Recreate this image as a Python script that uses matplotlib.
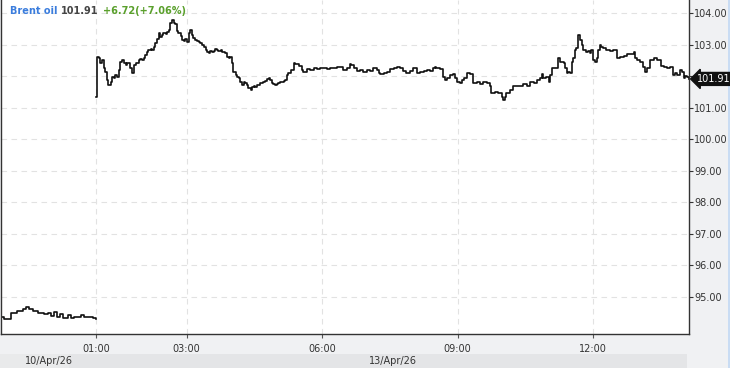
import matplotlib
matplotlib.use("Agg")
import matplotlib.pyplot as plt
from matplotlib.patches import Rectangle
import matplotlib.transforms as mtransforms

# ---------------- data ----------------
instrument = "Brent oil"
last_price = 101.91
change = 6.72
change_pct = 7.06
day_labels = ["10/Apr/26", "13/Apr/26"]
tick_hours = [1, 3, 6, 9, 12]
y_ticks = [95, 96, 97, 98, 99, 100, 101, 102, 103, 104]

# Friday 10 Apr: minutes relative to the session close (close aligned with Monday 01:00)
fri_min = [-127, -123, -114, -105, -98, -94, -90, -84, -77, -70, -65, -61, -57,
           -52, -48, -44, -38, -34, -30, -25, -21, -17, -12, -8, -4, 0]
fri_px = [94.38, 94.31, 94.50, 94.56, 94.61, 94.68, 94.61, 94.56, 94.48, 94.45,
          94.50, 94.40, 94.54, 94.38, 94.46, 94.35, 94.42, 94.35, 94.38, 94.37,
          94.42, 94.38, 94.38, 94.37, 94.35, 94.31]

# Monday 13 Apr: minutes after 01:00
mon_min = [0, 1, 3, 5, 8, 10, 12, 14, 16, 19, 21, 23, 25, 27, 30, 32, 34, 36, 39, 41,
           43, 45, 47, 50, 52, 54, 56, 58, 61, 63, 65, 67, 69, 72, 74, 76, 78, 81, 83, 85,
           87, 89, 92, 94, 96, 98, 100, 103, 105, 107, 109, 112, 114, 116, 118, 120, 123, 125, 127, 129,
           131, 134, 136, 138, 140, 143, 145, 147, 149, 151, 154, 156, 158, 160, 162, 165, 167, 169, 171, 174,
           176, 178, 180, 182, 185, 187, 189, 191, 193, 196, 198, 200, 202, 205, 207, 209, 211, 213, 216, 218,
           220, 222, 224, 227, 229, 231, 233, 235, 238, 240, 242, 244, 247, 249, 251,
           253, 255, 258, 262, 264, 269, 273, 275, 280, 284, 289, 293, 297, 302, 306, 311, 315, 320, 324, 328,
           333, 337, 339, 342, 346, 351, 355, 359, 364, 368, 373, 375, 377, 382, 386, 390, 395, 399, 404, 408,
           412, 417, 421, 426, 430, 435, 439, 444, 448, 450, 452, 457, 461, 463, 466, 470, 474, 477, 479, 483,
           486, 488, 492, 497,
           501, 506, 510, 514, 519, 523, 525, 530, 534, 539, 541, 543, 545, 550, 554, 559, 563, 567, 572, 576,
           581, 585, 590, 592, 594, 598, 601, 603, 605, 609, 612, 614, 616, 621, 623, 625, 627, 629, 632, 634,
           636, 638, 640, 643, 645, 647, 649, 651, 654, 656, 658, 660, 663, 665, 667, 669, 671, 674, 678, 683,
           687, 692, 696, 701, 705, 710, 714, 716, 718, 723, 727, 729, 732, 736, 741, 745, 750, 754, 758, 763,
           767, 769, 772, 776, 778, 781, 783, 785, 787]
mon_px = [101.35, 102.61, 102.56, 102.41, 102.51, 102.25, 102.14, 101.88, 101.72, 101.82,
          101.98, 101.93, 102.04, 101.98, 102.19, 102.46, 102.51, 102.41, 102.35, 102.41,
          102.43, 102.25, 102.09, 102.35, 102.43, 102.41, 102.51, 102.53, 102.51, 102.56,
          102.67, 102.77, 102.83, 102.85, 102.83, 102.91, 103.04, 103.17, 103.36, 103.25,
          103.30, 103.36, 103.33, 103.41, 103.46, 103.67, 103.78, 103.67, 103.65, 103.44,
          103.36, 103.27, 103.14, 103.12, 103.17, 103.09, 103.36, 103.46, 103.30, 103.20,
          103.14, 103.12, 103.09, 103.04, 102.99, 102.93, 102.83, 102.77, 102.72, 102.81,
          102.77, 102.81, 102.85, 102.83, 102.81, 102.83, 102.77, 102.77, 102.74, 102.62,
          102.56, 102.62, 102.41, 102.14, 102.04, 101.98, 101.93, 101.82, 101.72, 101.82,
          101.77, 101.72, 101.61, 101.56, 101.65, 101.69, 101.65, 101.72, 101.72, 101.77,
          101.79, 101.82, 101.86, 101.90, 101.93, 101.88, 101.77, 101.75, 101.72, 101.75,
          101.77, 101.80, 101.82, 101.84, 101.88,
          102.04, 102.09, 102.19, 102.41, 102.38, 102.32, 102.19, 102.14, 102.22, 102.19,
          102.25, 102.22, 102.25, 102.25, 102.22, 102.27, 102.25, 102.28, 102.30, 102.19,
          102.25, 102.38, 102.35, 102.25, 102.17, 102.19, 102.14, 102.19, 102.17, 102.25,
          102.19, 102.09, 102.07, 102.11, 102.14, 102.22, 102.25, 102.28, 102.25, 102.17,
          102.09, 102.17, 102.25, 102.09, 102.14, 102.17, 102.19, 102.17, 102.25, 102.30,
          102.25, 102.22, 101.98, 101.88, 101.93, 102.04, 102.07, 101.93, 101.82, 101.77,
          101.88, 101.93, 102.09, 102.08,
          101.77, 101.82, 101.74, 101.82, 101.77, 101.67, 101.46, 101.51, 101.46, 101.35,
          101.24, 101.35, 101.46, 101.56, 101.67, 101.70, 101.67, 101.74, 101.67, 101.82,
          101.77, 101.88, 101.93, 102.06, 101.93, 101.98, 101.82, 102.04, 102.25, 102.25,
          102.27, 102.56, 102.46, 102.41, 102.25, 102.09, 102.14, 102.09, 102.46, 102.56,
          102.83, 102.88, 103.30, 103.14, 102.99, 102.83, 102.83, 102.77, 102.80, 102.72,
          102.83, 102.51, 102.46, 102.56, 102.83, 102.97, 102.93, 102.90, 102.83, 102.80,
          102.83, 102.56, 102.62, 102.65, 102.69, 102.69, 102.77, 102.56, 102.51, 102.44,
          102.30, 102.14, 102.27, 102.51, 102.58, 102.51, 102.33, 102.30, 102.27, 102.30,
          102.04, 102.09, 102.04, 102.19, 102.14, 101.93, 102.01, 101.98, 101.91]

# ---------------- figure ----------------
W, H = 730, 368
fig = plt.figure(figsize=(W / 100, H / 100), dpi=100, facecolor="#f0f1f3")
ax = fig.add_axes([0.5 / W, (H - 334) / H, 688 / W, 334 / H])
ax.set_facecolor("white")

x_left = fri_min[0] - 0.5
x_right = mon_min[-1]
ax.set_xlim(x_left, x_right)
ax.set_ylim(93.83, 104.41)

ax.plot(fri_min, fri_px, color="#111111", lw=1.2, drawstyle="steps-post")
ax.plot(mon_min, mon_px, color="#111111", lw=1.2, drawstyle="steps-post")

# axes / ticks
tick_pos = [(h - 1) * 60 for h in tick_hours]
ax.set_xticks(tick_pos)
ax.set_xticklabels([f"{h:02d}:00" for h in tick_hours])
ax.set_yticks(y_ticks)
# the label nearest the last price sits under the price tag
ax.set_yticklabels(["" if abs(v - last_price) < 0.5 else f"{v:.2f}" for v in y_ticks])
ax.yaxis.tick_right()
ax.tick_params(axis="y", direction="out", length=3, width=0.8, color="#333333",
               labelsize=7, labelcolor="#333333", pad=1)
ax.tick_params(axis="x", direction="out", length=3, width=0.8, color="#555555",
               labelsize=7, labelcolor="#333333", pad=4)

ax.grid(True, color="#e2e2e2", lw=0.8, linestyle=(0, (5, 4)))
ax.set_axisbelow(True)
ax.spines["top"].set_visible(False)
for s in ["left", "right", "bottom"]:
    ax.spines[s].set_color("#333333")
    ax.spines[s].set_linewidth(1.0)

# last-price tag
ytrans = mtransforms.blended_transform_factory(ax.transAxes, ax.transData)
ax.text(1.013, last_price, f"{last_price:.2f}", transform=ytrans, ha="left", va="center",
        fontsize=7, color="white", clip_on=False, zorder=10,
        bbox=dict(boxstyle="larrow,pad=0.15", facecolor="#111111", edgecolor="#111111"))

# header legend
yl = 1 - 11.5 / H
fig.text(10 / W, yl, instrument, color="#3b7ddd", fontsize=7, fontweight="bold", va="center")
fig.text(61 / W, yl, f"{last_price:.2f}", color="#444444", fontsize=7, fontweight="bold", va="center")
fig.text(103 / W, yl, f"+{change:.2f}(+{change_pct:.2f}%)", color="#5aa02c", fontsize=7,
         fontweight="bold", va="center")

# bottom date band
fig.patches.append(Rectangle((0, 0), 687 / W, 14 / H, transform=fig.transFigure,
                             facecolor="#e4e5e7", edgecolor="none", zorder=-2))
fig.patches.append(Rectangle((0, 0), 69 / W, 14 / H, transform=fig.transFigure,
                             facecolor="#e9eaeb", edgecolor="none", zorder=-2))
fig.patches.append(Rectangle((728 / W, 0), 2 / W, 1, transform=fig.transFigure,
                             facecolor="#c9dcf3", edgecolor="none", zorder=-2))
xtrans = mtransforms.blended_transform_factory(ax.transData, fig.transFigure)
ax.text((x_left + 0) / 2, 7 / H, day_labels[0], transform=xtrans, ha="center", va="center",
        fontsize=7, color="#333333", clip_on=False)
ax.text((0 + x_right) / 2, 7 / H, day_labels[1], transform=xtrans, ha="center", va="center",
        fontsize=7, color="#333333", clip_on=False)

fig.savefig("out.png", dpi=100, facecolor=fig.get_facecolor())
